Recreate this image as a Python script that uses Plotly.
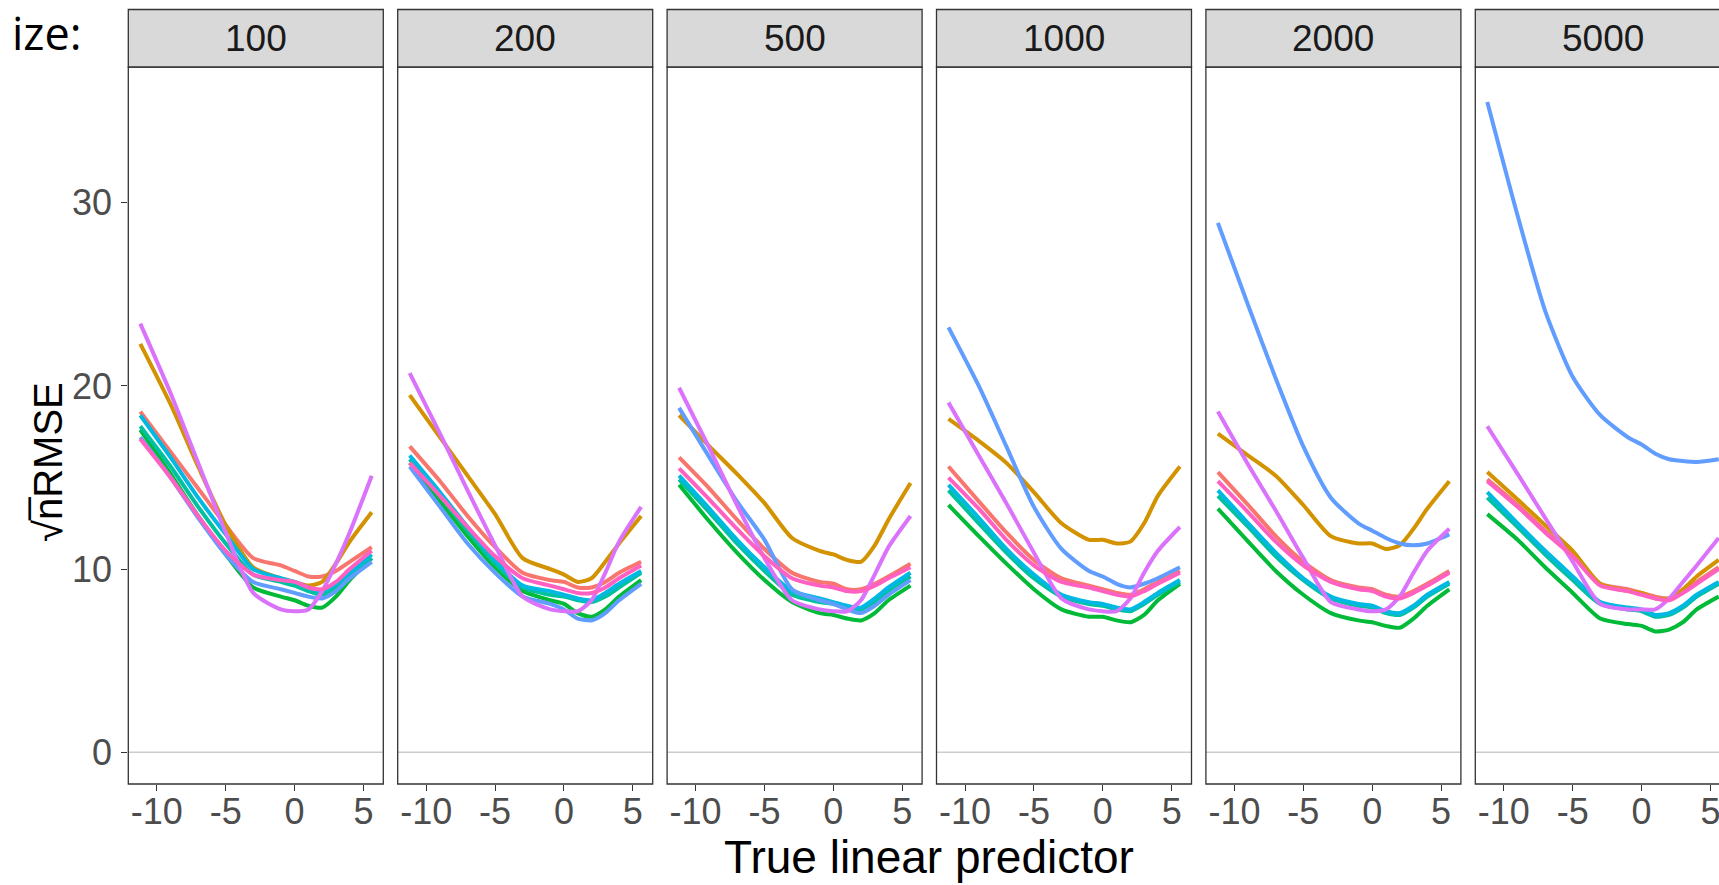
import plotly.graph_objects as go

# ---------------- data ----------------
X_GRID = [-11.2, -9, -7, -5, -3, -1, 0, 1, 2, 3, 4, 5.6]

SAMPLE_SIZES = ["100", "200", "500", "1000", "2000", "5000"]

SERIES = ["red", "golden", "green", "teal", "cyan", "blue", "purple", "pink"]
COLORS = {"red": "#F8766D", "golden": "#D39200", "green": "#00BA38", "teal": "#00C19F",
          "cyan": "#00B9E3", "blue": "#619CFF", "purple": "#DB72FB", "pink": "#FF61C3"}

N100 = {
    "red":    [18.6, 16.4, 14.4, 12.4, 10.6, 10.2, 9.9, 9.6, 9.6, 9.9, 10.4, 11.2],
    "golden": [22.3, 19.0, 15.6, 12.4, 10.1, 9.5, 9.3, 9.1, 9.3, 10.3, 11.5, 13.1],
    "green":  [17.6, 15.2, 12.9, 10.8, 9.0, 8.5, 8.3, 8.0, 7.9, 8.5, 9.4, 10.6],
    "teal":   [17.8, 15.6, 13.4, 11.4, 9.7, 9.3, 9.1, 8.8, 8.6, 9.0, 9.6, 10.6],
    "cyan":   [18.4, 16.1, 13.9, 11.9, 10.0, 9.5, 9.3, 9.0, 8.8, 9.2, 9.8, 10.8],
    "blue":   [17.2, 15.0, 12.8, 10.8, 9.3, 8.9, 8.7, 8.5, 8.4, 8.8, 9.5, 10.4],
    "purple": [23.4, 19.6, 15.8, 12.0, 8.7, 7.8, 7.7, 7.8, 8.8, 10.3, 12.0, 15.1],
    "pink":   [17.1, 15.0, 12.9, 11.0, 9.7, 9.4, 9.3, 9.0, 8.9, 9.3, 10.0, 11.0],
}
N200 = {
    "red":    [16.7, 14.8, 12.9, 11.2, 9.8, 9.4, 9.3, 9.0, 9.0, 9.3, 9.8, 10.4],
    "golden": [19.5, 17.2, 15.1, 13.0, 10.6, 10.0, 9.7, 9.3, 9.5, 10.4, 11.4, 12.9],
    "green":  [15.8, 13.7, 11.8, 10.1, 8.8, 8.3, 8.1, 7.6, 7.4, 7.8, 8.5, 9.4],
    "teal":   [16.0, 14.0, 12.1, 10.3, 9.0, 8.6, 8.5, 8.3, 8.2, 8.5, 9.0, 9.8],
    "cyan":   [16.2, 14.2, 12.3, 10.5, 9.1, 8.8, 8.6, 8.4, 8.3, 8.7, 9.2, 9.9],
    "blue":   [15.6, 13.4, 11.4, 9.8, 8.5, 8.1, 7.8, 7.3, 7.2, 7.6, 8.3, 9.2],
    "purple": [20.7, 17.4, 14.3, 11.3, 8.5, 7.8, 7.7, 7.7, 8.3, 9.8, 11.5, 13.4],
    "pink":   [15.8, 14.0, 12.3, 10.7, 9.5, 9.1, 8.9, 8.7, 8.7, 9.0, 9.5, 10.2],
}
N500 = {
    "red":    [16.1, 14.4, 12.7, 11.1, 9.8, 9.3, 9.2, 8.9, 8.9, 9.2, 9.6, 10.3],
    "golden": [18.4, 16.7, 15.2, 13.6, 11.7, 11.0, 10.8, 10.5, 10.4, 11.3, 12.7, 14.7],
    "green":  [14.6, 12.6, 10.9, 9.4, 8.2, 7.6, 7.5, 7.3, 7.2, 7.6, 8.3, 9.1],
    "teal":   [14.9, 13.1, 11.4, 9.9, 8.6, 8.2, 8.1, 7.9, 7.8, 8.2, 8.8, 9.6],
    "cyan":   [15.1, 13.3, 11.6, 10.1, 8.8, 8.4, 8.2, 8.0, 7.9, 8.4, 9.0, 9.8],
    "blue":   [18.8, 16.1, 13.7, 11.6, 8.9, 8.3, 8.1, 7.8, 7.6, 8.0, 8.6, 9.4],
    "purple": [19.9, 16.6, 13.5, 10.6, 8.3, 7.8, 7.7, 7.7, 8.3, 9.7, 11.2, 12.9],
    "pink":   [15.5, 13.8, 12.2, 10.7, 9.5, 9.1, 9.0, 8.8, 8.8, 9.1, 9.5, 10.1],
}
N1000 = {
    "red":    [15.6, 13.7, 12.0, 10.5, 9.5, 9.1, 8.9, 8.7, 8.6, 8.9, 9.3, 9.9],
    "golden": [18.2, 17.0, 15.8, 14.2, 12.5, 11.6, 11.6, 11.4, 11.5, 12.5, 14.0, 15.6],
    "green":  [13.5, 11.8, 10.3, 8.9, 7.8, 7.4, 7.4, 7.2, 7.1, 7.5, 8.3, 9.2],
    "teal":   [14.3, 12.5, 10.9, 9.5, 8.5, 8.1, 8.0, 7.8, 7.7, 8.1, 8.6, 9.3],
    "cyan":   [14.6, 12.8, 11.1, 9.7, 8.6, 8.2, 8.1, 7.9, 7.8, 8.2, 8.7, 9.4],
    "blue":   [23.2, 20.0, 16.7, 13.4, 11.1, 9.9, 9.6, 9.2, 9.0, 9.2, 9.5, 10.1],
    "purple": [19.1, 16.2, 13.6, 10.9, 8.4, 7.8, 7.7, 7.7, 8.4, 9.8, 11.0, 12.3],
    "pink":   [15.0, 13.3, 11.6, 10.2, 9.3, 9.0, 8.8, 8.6, 8.5, 8.8, 9.2, 9.8],
}
N2000 = {
    "red":    [15.3, 13.5, 11.8, 10.4, 9.4, 9.0, 8.9, 8.6, 8.5, 8.8, 9.2, 9.9],
    "golden": [17.4, 16.2, 15.1, 13.5, 11.8, 11.4, 11.4, 11.1, 11.3, 12.2, 13.3, 14.8],
    "green":  [13.3, 11.5, 9.9, 8.6, 7.6, 7.2, 7.1, 6.9, 6.8, 7.3, 8.0, 8.9],
    "teal":   [14.0, 12.3, 10.7, 9.4, 8.4, 8.0, 7.9, 7.6, 7.5, 7.9, 8.5, 9.2],
    "cyan":   [14.3, 12.5, 10.9, 9.5, 8.5, 8.1, 8.0, 7.7, 7.6, 8.0, 8.6, 9.3],
    "blue":   [28.9, 24.4, 20.4, 16.7, 13.9, 12.5, 12.1, 11.7, 11.4, 11.3, 11.4, 11.9],
    "purple": [18.6, 15.7, 13.2, 10.6, 8.2, 7.8, 7.7, 7.8, 8.5, 9.8, 11.0, 12.2],
    "pink":   [14.8, 13.1, 11.5, 10.2, 9.3, 8.9, 8.8, 8.5, 8.4, 8.7, 9.1, 9.8],
}
N5000 = {
    "red":    [14.9, 13.5, 12.1, 10.8, 9.2, 8.9, 8.7, 8.5, 8.4, 8.8, 9.3, 10.1],
    "golden": [15.3, 13.8, 12.4, 11.0, 9.2, 8.8, 8.7, 8.4, 8.4, 8.9, 9.6, 10.5],
    "green":  [13.0, 11.6, 10.1, 8.7, 7.3, 7.0, 6.9, 6.6, 6.7, 7.1, 7.8, 8.5],
    "teal":   [13.9, 12.3, 10.8, 9.4, 8.1, 7.8, 7.7, 7.4, 7.5, 7.9, 8.5, 9.2],
    "cyan":   [14.2, 12.5, 11.0, 9.6, 8.2, 7.9, 7.8, 7.5, 7.6, 8.0, 8.6, 9.3],
    "blue":   [35.5, 29.3, 24.1, 20.5, 18.4, 17.2, 16.8, 16.3, 16.0, 15.9, 15.85, 16.0],
    "purple": [17.8, 15.2, 12.8, 10.4, 8.1, 7.8, 7.8, 7.8, 8.4, 9.3, 10.2, 11.7],
    "pink":   [14.8, 13.4, 12.0, 10.7, 9.1, 8.8, 8.6, 8.4, 8.3, 8.7, 9.2, 10.0],
}
PANEL_DATA = [N100, N200, N500, N1000, N2000, N5000]

X_TICKS = [-10, -5, 0, 5]
X_TICK_TEXT = ["-10", "-5", "0", "5"]
Y_TICKS = [0, 10, 20, 30]
Y_TICK_TEXT = ["0", "10", "20", "30"]

# ---------------- layout geometry (pixels) ----------------
W, H = 1719, 885
PANEL_LEFT0 = 128.3
PANEL_STEP = 269.4
PANEL_W = 255.0
PANEL_TOP = 67.0
PANEL_BOTTOM = 784.0
STRIP_TOP = 9.5
X_RANGE = [-12.07, 6.44]
Y_RANGE = [-1.73, 37.41]
PX_PER_X = PANEL_W / (X_RANGE[1] - X_RANGE[0])

def px(xp):
    return xp / W

def py(yp):
    return 1 - yp / H

fig = go.Figure()
shapes = []
annotations = []
layout = {}

for i, (label, data) in enumerate(zip(SAMPLE_SIZES, PANEL_DATA)):
    k = "" if i == 0 else str(i + 1)
    xa, ya = "x" + k, "y" + k
    left = PANEL_LEFT0 + PANEL_STEP * i
    right = left + PANEL_W
    vis_right = min(right, W)
    xr = [X_RANGE[0], X_RANGE[0] + (vis_right - left) / PX_PER_X]

    for s in SERIES:
        fig.add_trace(go.Scatter(
            x=X_GRID, y=data[s], xaxis=xa, yaxis=ya, mode="lines",
            line=dict(color=COLORS[s], width=4, shape="spline", smoothing=0.65),
            showlegend=False, hoverinfo="skip"))

    layout["xaxis" + k] = dict(
        domain=[px(left), px(vis_right)], range=xr, anchor=ya,
        tickvals=X_TICKS, ticktext=X_TICK_TEXT, ticks="outside", ticklen=6,
        tickwidth=1.3, tickcolor="#333333", showgrid=False, zeroline=False,
        showline=False, ticklabelstandoff=-10, ticklabeloverflow="allow",
        tickfont=dict(family="Liberation Sans", size=36, color="#4D4D4D"))
    layout["yaxis" + k] = dict(
        domain=[py(PANEL_BOTTOM), py(PANEL_TOP)], range=Y_RANGE, anchor=xa,
        tickvals=Y_TICKS, ticktext=Y_TICK_TEXT,
        ticks="outside" if i == 0 else "", ticklen=6, tickwidth=1.3,
        tickcolor="#333333", showticklabels=(i == 0), showgrid=False,
        zeroline=False, showline=False, ticklabelstandoff=2,
        tickfont=dict(family="Liberation Sans", size=36, color="#4D4D4D"))

    # zero reference line
    shapes.append(dict(type="line", xref=xa + " domain", yref=ya, x0=0, x1=1, y0=0, y1=0,
                       line=dict(color="#CCCCCC", width=1.6), layer="below"))
    # panel border
    shapes.append(dict(type="rect", xref="paper", yref="paper",
                       x0=px(left), x1=px(right), y0=py(PANEL_BOTTOM), y1=py(PANEL_TOP),
                       line=dict(color="#333333", width=1.3), fillcolor="rgba(0,0,0,0)",
                       layer="above"))
    # strip
    shapes.append(dict(type="rect", xref="paper", yref="paper",
                       x0=px(left), x1=px(right), y0=py(PANEL_TOP), y1=py(STRIP_TOP),
                       line=dict(color="#333333", width=1.3), fillcolor="#D9D9D9",
                       layer="above"))
    annotations.append(dict(text=label, xref="paper", yref="paper",
                            x=px((left + right) / 2), y=py((STRIP_TOP + PANEL_TOP) / 2),
                            xanchor="center", yanchor="middle", showarrow=False,
                            font=dict(family="Liberation Sans", size=37, color="#1A1A1A")))

# axis titles and clipped legend label
annotations.append(dict(text="True linear predictor", xref="paper", yref="paper",
                        x=px((PANEL_LEFT0 + PANEL_LEFT0 + PANEL_STEP * 5 + PANEL_W) / 2),
                        y=py(857), xanchor="center", yanchor="middle", showarrow=False,
                        font=dict(family="Liberation Sans", size=46, color="#000000")))
annotations.append(dict(text="\u221an\u0305RMSE", xref="paper", yref="paper",
                        x=px(48), y=py(462), xanchor="center", yanchor="middle",
                        textangle=-90, showarrow=False,
                        font=dict(family="Liberation Sans", size=40, color="#000000")))
annotations.append(dict(text="ize:", xref="paper", yref="paper",
                        x=px(84), y=py(33), xanchor="right", yanchor="middle",
                        showarrow=False,
                        font=dict(family="Open Sans", size=45, color="#000000")))

fig.update_layout(
    width=W, height=H,
    margin=dict(l=0, r=0, t=0, b=0),
    paper_bgcolor="white", plot_bgcolor="white",
    shapes=shapes, annotations=annotations, **layout)

fig.write_html("out.html", config={"displayModeBar": False},
               post_script="document.body.style.margin='0';")
